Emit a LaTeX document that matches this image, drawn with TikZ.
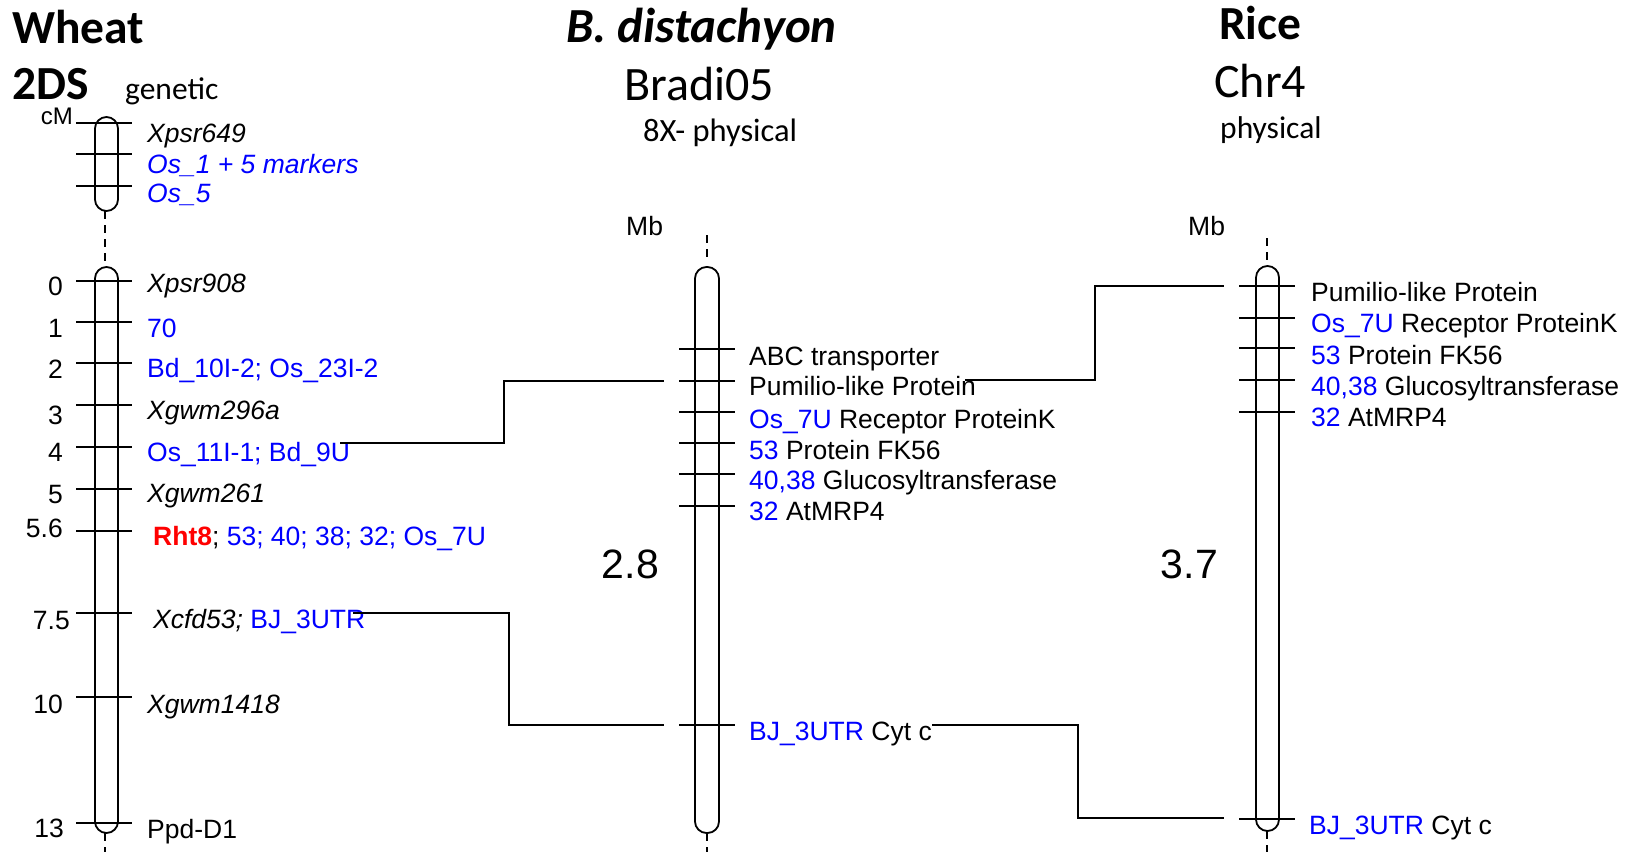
\documentclass[tikz,border=0pt]{standalone}
\usepackage{fontspec}
\usepackage{tikz}
\usetikzlibrary{positioning,calc}
\usepackage{xcolor}
\newfontfamily\arialf{Liberation Sans}
\newfontfamily\calibf{Carlito}
\definecolor{mkblue}{RGB}{0,0,255}
\definecolor{mkred}{RGB}{255,0,0}
\newcommand{\lbfont}{\arialf\fontsize{26.5}{30}\selectfont}

\begin{document}
\begin{tikzpicture}[
    x=1pt, y=-1pt,
    chrom/.style={draw, line width=1.8pt, rounded corners=11.5pt},
    tick/.style={line width=1.8pt},
    gap/.style={line width=1.8pt, dash pattern=on 8pt off 6pt},
    link/.style={line width=1.8pt},
    lbl/.style={anchor=base west, inner sep=0pt, font=\lbfont},
    num/.style={anchor=base east, inner sep=0pt, font=\lbfont},
    title/.style={anchor=base west, inner sep=0pt, font=\calibf\bfseries\fontsize{47.5}{52}\selectfont},
    chrname/.style={anchor=base west, inner sep=0pt, font=\calibf\fontsize{48}{52}\selectfont},
    maptype/.style={anchor=base west, inner sep=0pt, font=\calibf\fontsize{31.5}{36}\selectfont},
    size/.style={anchor=base east, inner sep=0pt, font=\arialf\fontsize{41}{46}\selectfont}
]
\useasboundingbox (0,0) rectangle (1635,852);

% Titles
\node[title] (wheat) at (12,43) {Wheat};
\node[title] (w2ds) at (12,99) {2DS};
\node[maptype] (wgen) at (125,99) {genetic};
\node[title, font=\calibf\bfseries\itshape\fontsize{49}{54}\selectfont] (bdist) at (566,42) {B. distachyon};
\node[chrname] (bchr) at (624,100) {Bradi05};
\node[maptype, font=\calibf\fontsize{32.5}{36}\selectfont] (bphys) at (643,141) {8X- physical};
\node[title] (rice) at (1219,39) {Rice};
\node[chrname] (rchr) at (1214,97) {Chr4};
\node[maptype] (rphys) at (1220,138) {physical};

% Wheat 2DS chromosome
\draw[chrom] (95,117) rectangle (118,211);
\draw[gap] (105,211) -- (105,267);
\draw[chrom] (95,267) rectangle (118,833);
\draw[gap] (105,833) -- (105,852);
\draw[tick] (76,123) -- (132,123);
\draw[tick] (76,154) -- (132,154);
\draw[tick] (76,186) -- (132,186);
\draw[tick] (76,281) -- (132,281);
\draw[tick] (76,322) -- (132,322);
\draw[tick] (76,363) -- (132,363);
\draw[tick] (76,405) -- (132,405);
\draw[tick] (76,447) -- (132,447);
\draw[tick] (76,489) -- (132,489);
\draw[tick] (76,531) -- (132,531);
\draw[tick] (76,613) -- (132,613);
\draw[tick] (76,697) -- (132,697);
\draw[tick] (76,823) -- (132,823);

\node[num, font=\arialf\fontsize{24}{28}\selectfont] (cm) at (73,124) {cM};
\node[num] (p0) at (63,295) {0};
\node[num] (p1) at (63,337) {1};
\node[num] (p2) at (63,378) {2};
\node[num] (p3) at (63,424) {3};
\node[num] (p4) at (63,461) {4};
\node[num] (p5) at (63,503) {5};
\node[num] (p56) at (63,537) {5.6};
\node[num] (p75) at (70,629) {7.5};
\node[num] (p10) at (63,713) {10};
\node[num] (p13) at (64,837) {13};

\node[lbl] (wx649) at (147,142) {\itshape Xpsr649};
\node[lbl, text=mkblue] (wos1) at (147,173) {\itshape Os\_1 + 5 markers};
\node[lbl, text=mkblue] (wos5) at (147,202) {\itshape Os\_5};
\node[lbl] (wx908) at (147,292) {\itshape Xpsr908};
\node[lbl, text=mkblue] (w70) at (147,337) {70};
\node[lbl, text=mkblue] (wbd10) at (147,377) {Bd\_10I-2; Os\_23I-2};
\node[lbl] (wx296) at (147,419) {\itshape Xgwm296a};
\node[lbl, text=mkblue] (wos11) at (147,461) {Os\_11I-1; Bd\_9U};
\node[lbl] (wx261) at (147,502) {\itshape Xgwm261};
\node[lbl] (wrht) at (153,545) {\textcolor{mkred}{\bfseries Rht8}; \textcolor{mkblue}{53; 40; 38; 32; Os\_7U}};
\node[lbl] (wxcfd) at (153,628) {\textit{Xcfd53;} \textcolor{mkblue}{BJ\_3UTR}};
\node[lbl] (wx1418) at (147,713) {\itshape Xgwm1418};
\node[lbl] (wppd) at (147,838) {Ppd-D1};

% Bradi05 chromosome
\node[lbl] (bmb) at (626,235) {Mb};
\draw[gap] (707,235) -- (707,259);
\draw[chrom] (695,267) rectangle (719,833);
\draw[gap] (707,833) -- (707,852);
\draw[tick] (679,349) -- (735,349);
\draw[tick] (679,381) -- (735,381);
\draw[tick] (679,412) -- (735,412);
\draw[tick] (679,443) -- (735,443);
\draw[tick] (679,474) -- (735,474);
\draw[tick] (679,506) -- (735,506);
\draw[tick] (679,725) -- (735,725);
\node[size] (bsize) at (659,578) {2.8};

\node[lbl] (babc) at (749,365) {ABC transporter};
\node[lbl] (bpum) at (749,395) {Pumilio-like Protein};
\node[lbl] (bos7) at (749,428) {\textcolor{mkblue}{Os\_7U} Receptor ProteinK};
\node[lbl] (b53) at (749,459) {\textcolor{mkblue}{53} Protein FK56};
\node[lbl] (b40) at (749,489) {\textcolor{mkblue}{40,38} Glucosyltransferase};
\node[lbl] (b32) at (749,520) {\textcolor{mkblue}{32} AtMRP4};
\node[lbl] (bbj) at (749,740) {\textcolor{mkblue}{BJ\_3UTR} Cyt c};

% Rice Chr4 chromosome
\node[lbl] (rmb) at (1188,235) {Mb};
\draw[gap] (1267,238) -- (1267,261);
\draw[chrom] (1256,266) rectangle (1279,831);
\draw[gap] (1267,831) -- (1267,852);
\draw[tick] (1239,286) -- (1295,286);
\draw[tick] (1239,318) -- (1295,318);
\draw[tick] (1239,348) -- (1295,348);
\draw[tick] (1239,380) -- (1295,380);
\draw[tick] (1239,412) -- (1295,412);
\draw[tick] (1239,819) -- (1295,819);
\node[size] (rsize) at (1218,578) {3.7};

\node[lbl] (rpum) at (1311,301) {Pumilio-like Protein};
\node[lbl] (ros7) at (1311,332) {\textcolor{mkblue}{Os\_7U} Receptor ProteinK};
\node[lbl] (r53) at (1311,364) {\textcolor{mkblue}{53} Protein FK56};
\node[lbl] (r40) at (1311,395) {\textcolor{mkblue}{40,38} Glucosyltransferase};
\node[lbl] (r32) at (1311,426) {\textcolor{mkblue}{32} AtMRP4};
\node[lbl] (rbj) at (1309,834) {\textcolor{mkblue}{BJ\_3UTR} Cyt c};

% Connectors
\coordinate (wl4) at (340,443);
\coordinate (wl75) at (353,613);
\coordinate (bl2) at (965,380);
\coordinate (blbj) at (932,725);
\coordinate (bin2) at (664,381);
\coordinate (binbj) at (664,725);
\coordinate (rin1) at (1224,286);
\coordinate (rinbj) at (1224,818);
\draw[link] (wl4) -- ++(164,0) |- (bin2);
\draw[link] (wl75) -- ++(156,0) |- (binbj);
\draw[link] (bl2) -- ++(130,0) |- (rin1);
\draw[link] (blbj) -- ++(146,0) |- (rinbj);

\end{tikzpicture}
\end{document}
